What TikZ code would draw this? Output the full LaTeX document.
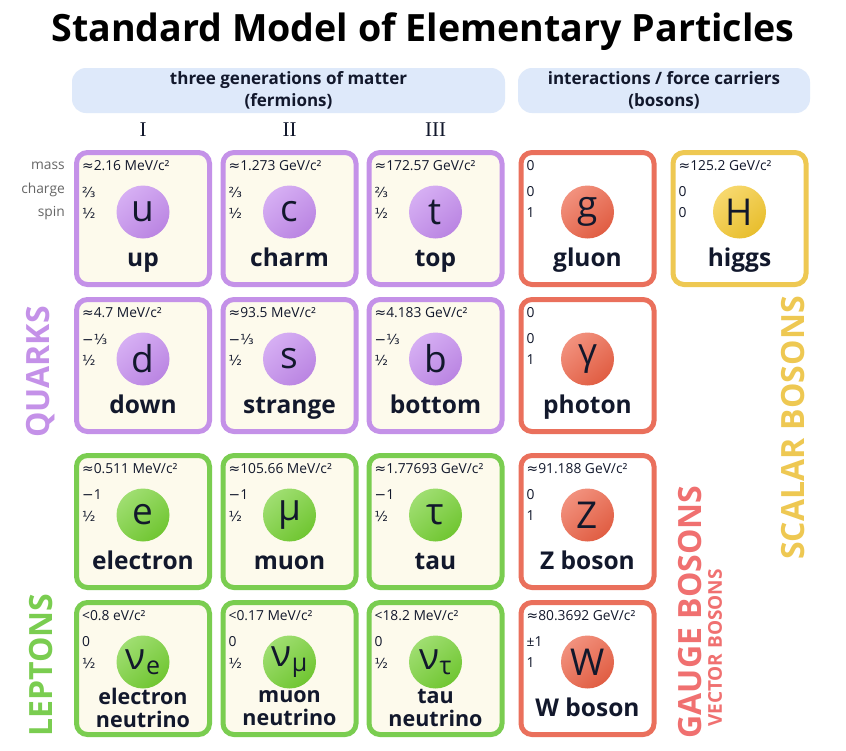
\documentclass[tikz,border=0pt]{standalone}
\usepackage{fontspec}
\setmainfont{Open Sans}
\newfontfamily\romfont{Liberation Serif}
\newfontfamily\symfont{DejaVu Sans}
\usetikzlibrary{positioning}

\definecolor{quark}{RGB}{196,145,232}
\definecolor{lepton}{RGB}{122,205,80}
\definecolor{gauge}{RGB}{234,112,92}
\definecolor{scalar}{RGB}{238,200,82}
\definecolor{quarkball}{RGB}{196,140,238}
\definecolor{leptonball}{RGB}{118,208,52}
\definecolor{gaugeball}{RGB}{236,98,70}
\definecolor{scalarball}{RGB}{244,200,48}
\definecolor{cream}{RGB}{253,250,236}
\definecolor{hdrblue}{RGB}{222,233,250}
\definecolor{ink}{RGB}{18,24,44}
\definecolor{gaugetxt}{RGB}{240,112,112}

\newcommand{\sy}[1]{{\symfont #1}}
\newcommand{\nf}{\fontsize{21.5}{23}\selectfont}
% one particle card: id, position, colour, mass, charge, spin, symbol, name, fill
\newcommand{\particle}[9]{%
  \node[card, draw=#3, fill=#9] (#1) at #2 {};
  \node[val] at ([xshift=8pt,yshift=-16pt]#1.north west) {#4};
  \node[val] at ([xshift=8pt,yshift=-42pt]#1.north west) {#5};
  \node[val] at ([xshift=8pt,yshift=-63pt]#1.north west) {#6};
  \node[ball=#3ball] (#1s) at ([yshift=-62pt]#1.north) {#7};
  \node[pname] at ([yshift=-110.5pt]#1.north) {#8};
}

\begin{document}
\begin{tikzpicture}[x=1pt, y=-1pt,
  card/.style = {rectangle, rounded corners=11pt, line width=5pt, minimum width=133pt, minimum height=132pt, inner sep=0pt},
  val/.style = {anchor=west, inner sep=0pt, text=ink, font=\fontsize{13.8}{15}\selectfont},
  ball/.style = {circle, minimum size=53pt, inner sep=0pt, top color=#1!70!white, bottom color=#1!95!black, shading angle=40, text=ink, font=\fontsize{37}{38}\selectfont},
  pname/.style = {align=center, inner sep=0pt, text=ink, font=\bfseries\fontsize{24.5}{23}\selectfont,
    execute at begin node=\vphantom{Tg}, execute at end node=\vphantom{g}},
  hdr/.style = {fill=hdrblue, rounded corners=14pt, minimum height=45pt, align=center, text=ink, font=\bfseries\fontsize{17}{22}\selectfont},
  rom/.style = {text=ink, font=\romfont\fontsize{21}{21}\selectfont},
  row/.style = {anchor=east, inner sep=0pt, text=black!60, font=\fontsize{13.8}{15}\selectfont},
  group/.style = {rotate=90, inner sep=0pt, font=\bfseries\fontsize{32}{32}\selectfont}]
\fill[white] (0,0) rectangle (846,750);
\useasboundingbox (0,0) rectangle (846,750);

\node[font=\bfseries\fontsize{37.6}{44}\selectfont, text=black] (title) at (423,32) {Standard Model of Elementary Particles};

\node[hdr, minimum width=433pt] (fermions) at (288.5,90.5) {three generations of matter\\(fermions)};
\node[hdr, minimum width=292pt] (bosons) at (664,90.5) {interactions / force carriers\\(bosons)};

\node[rom] (gen1) at (143,130) {I};
\node[rom] (gen2) at (289.5,130) {II};
\node[rom] (gen3) at (435.5,130) {III};

\node[row] (mass) at (65,166) {mass};
\node[row] (charge) at (65,190) {charge};
\node[row] (spin) at (65,213) {spin};

\particle{u}{(143,218.5)}{quark}{\sy{≈}2.16 MeV/c²}{\sy{⅔}}{\sy{½}}{u}{up}{cream}
\particle{c}{(289.5,218.5)}{quark}{\sy{≈}1.273 GeV/c²}{\sy{⅔}}{\sy{½}}{c}{charm}{cream}
\particle{t}{(435.5,218.5)}{quark}{\sy{≈}172.57 GeV/c²}{\sy{⅔}}{\sy{½}}{t}{top}{cream}
\particle{d}{(143,365.5)}{quark}{\sy{≈}4.7 MeV/c²}{\sy{−⅓}}{\sy{½}}{d}{down}{cream}
\particle{s}{(289.5,365.5)}{quark}{\sy{≈}93.5 MeV/c²}{\sy{−⅓}}{\sy{½}}{s}{strange}{cream}
\particle{b}{(435.5,365.5)}{quark}{\sy{≈}4.183 GeV/c²}{\sy{−⅓}}{\sy{½}}{b}{bottom}{cream}
\particle{e}{(143,521.5)}{lepton}{\sy{≈}0.511 MeV/c²}{\sy{−}1}{\sy{½}}{e}{electron}{cream}
\particle{mu}{(289.5,521.5)}{lepton}{\sy{≈}105.66 MeV/c²}{\sy{−}1}{\sy{½}}{μ}{muon}{cream}
\particle{tau}{(435.5,521.5)}{lepton}{\sy{≈}1.77693 GeV/c²}{\sy{−}1}{\sy{½}}{τ}{tau}{cream}
\particle{nue}{(143,668.5)}{lepton}{<0.8 eV/c²}{0}{\sy{½}}{ν\raisebox{-5pt}{\fontsize{25}{25}\selectfont e}}{\nf electron\\\nf neutrino}{cream}
\particle{numu}{(289.5,668.5)}{lepton}{<0.17 MeV/c²}{0}{\sy{½}}{ν\raisebox{-5pt}{\fontsize{25}{25}\selectfont μ}}{\nf muon\\\nf neutrino}{cream}
\particle{nutau}{(435.5,668.5)}{lepton}{<18.2 MeV/c²}{0}{\sy{½}}{ν\raisebox{-5pt}{\fontsize{25}{25}\selectfont τ}}{\nf tau\\\nf neutrino}{cream}
\particle{g}{(587.5,218.5)}{gauge}{0}{0}{1}{g}{gluon}{white}
\particle{gamma}{(587.5,365.5)}{gauge}{0}{0}{1}{γ}{photon}{white}
\particle{Z}{(587.5,521.5)}{gauge}{\sy{≈}91.188 GeV/c²}{0}{1}{Z}{Z boson}{white}
\particle{W}{(587.5,668.5)}{gauge}{\sy{≈}80.3692 GeV/c²}{±1}{1}{W}{W boson}{white}
\particle{H}{(739.5,218.5)}{scalar}{\sy{≈}125.2 GeV/c²}{0}{0}{H}{higgs}{white}

\node[group, text=quark] (quarks) at (41,372) {QUARKS};
\node[group, text=lepton] (leptons) at (41,665) {LEPTONS};
\node[group, text=gaugetxt] (gaugeb) at (690,612) {GAUGE BOSONS};
\node[group, text=gaugetxt, font=\bfseries\fontsize{19}{19}\selectfont] (vectorb) at (715,648) {VECTOR BOSONS};
\node[group, text=scalar] (scalarb) at (793,428) {SCALAR BOSONS};
\end{tikzpicture}
\end{document}
